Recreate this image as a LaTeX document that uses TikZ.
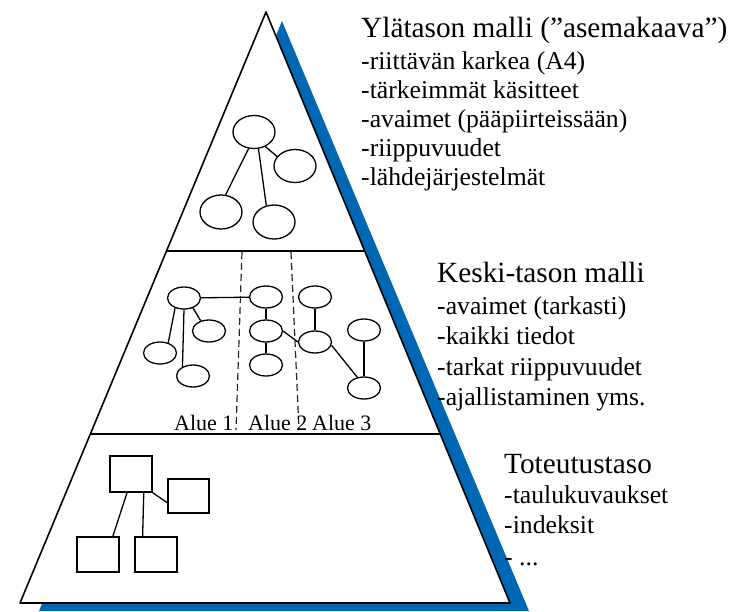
\documentclass[tikz,border=0pt]{standalone}
\usepackage{fontspec}
\setmainfont{Liberation Serif}
\usetikzlibrary{shapes.geometric,calc}
\definecolor{shadowblue}{RGB}{0,104,178}
\begin{document}
\begin{tikzpicture}[x=1pt,y=-1pt,
  ell/.style={draw, ellipse, line width=1.3pt, inner sep=0pt, minimum width=33pt, minimum height=22pt},
  bigell/.style={ell, minimum width=42pt, minimum height=33pt},
  box/.style={draw, rectangle, line width=1.8pt, inner sep=0pt, minimum width=42pt, minimum height=35pt},
  edge/.style={line width=1.3pt},
  head/.style={anchor=base west, inner sep=0pt, font=\fontsize{29.3}{32}\selectfont},
  item/.style={anchor=base west, inner sep=0pt, font=\fontsize{25.7}{30}\selectfont},
  area/.style={anchor=base west, inner sep=0pt, font=\fontsize{22}{24}\selectfont},
  divider/.style={line width=1.8pt},
  zone/.style={line width=1.2pt, dash pattern=on 7pt off 4pt, black!85},
]
\useasboundingbox (0,0) rectangle (734,611);
% shadow
\fill[shadowblue] (282,21) -- (529,611) -- (39,611) -- cycle;
% pyramid
\coordinate (apex) at (266,12);
\coordinate (cornerL) at (20,603);
\coordinate (cornerR) at (510,603);
\draw[line width=1.6pt, fill=white, line join=round] (apex) -- (cornerR) -- (cornerL) -- cycle;
\draw[divider] ($(apex)!0.4044!(cornerL)$) -- ($(apex)!0.4044!(cornerR)$);
\draw[divider] ($(apex)!0.7140!(cornerL)$) -- ($(apex)!0.7140!(cornerR)$);
% dashed area borders
\draw[zone] (242,252) -- (236,430);
\draw[zone] (291,252) -- (299,430);
% top level graph
\node[bigell] (ta) at (254,132) {};
\node[bigell] (tb) at (295,166) {};
\node[bigell, minimum height=34pt] (tc) at (221,212) {};
\node[bigell, minimum height=34pt] (td) at (274,222) {};
\draw[edge] (ta.-108) -- (tc.75);
\draw[edge] (ta.-75) -- (td.115);
\draw[edge] (ta.-52) -- (tb.152);
% middle level graph
\node[ell] (m1) at (184,298) {};
\node[ell] (m1r) at (209,331) {};
\node[ell] (m1l) at (160,353) {};
\node[ell] (m1b) at (193,376) {};
\node[ell] (m2t) at (266,297) {};
\node[ell] (m2m) at (266,331) {};
\node[ell] (m2b) at (266,365) {};
\node[ell] (m3t) at (315,297) {};
\node[ell] (m3m) at (315,342) {};
\node[ell] (m3r) at (364,330) {};
\node[ell] (m3b) at (364,388) {};
\draw[edge] (m1) -- (m2t);
\draw[edge] (m1.-132) -- (m1l.51);
\draw[edge] (m1.south) -- (m1b.139);
\draw[edge] (m1.-48) -- (m1r.129);
\draw[edge] (m2t) -- (m2m);
\draw[edge] (m2m) -- (m2b);
\draw[edge] (m2m.east) -- (m3m.west);
\draw[edge] (m3t) -- (m3m);
\draw[edge] (m3m.-11) -- (m3b.122);
\draw[edge] (m3r) -- (m3b);
\node[area] (al1) at (174,430) {Alue 1};
\node[area] (al2) at (248,430) {Alue 2};
\node[area] (al3) at (312,430) {Alue 3};
% implementation level
\node[box, minimum height=36pt] (b1) at (131,474) {};
\node[box, minimum width=41pt, minimum height=34pt] (b2) at (188.5,496) {};
\node[box] (b3) at (98,554.5) {};
\node[box] (b4) at (156,554.5) {};
\draw[edge] (b1.-102.5) -- (b3.51.3);
\draw[edge] (b1.-56.3) -- (b4.126.6);
\draw[edge] (b1.south east) -- (b2.-163.7);
% texts
\node[head] (h1) at (361,37) {Ylätason malli (”asemakaava”)};
\node[item] (h1a) at (361,69) {-riittävän karkea (A4)};
\node[item] (h1b) at (361,98) {-tärkeimmät käsitteet};
\node[item] (h1c) at (361,127) {-avaimet (pääpiirteissään)};
\node[item] (h1d) at (361,156) {-riippuvuudet};
\node[item] (h1e) at (361,185) {-lähdejärjestelmät};
\node[head] (h2) at (437,282) {Keski-tason malli};
\node[item] (h2a) at (437,314) {-avaimet (tarkasti)};
\node[item] (h2b) at (437,344) {-kaikki tiedot};
\node[item] (h2c) at (437,375) {-tarkat riippuvuudet};
\node[item] (h2d) at (437,405) {-ajallistaminen yms.};
\node[head] (h3) at (504,473) {Toteutustaso};
\node[item] (h3a) at (504,503) {-taulukuvaukset};
\node[item] (h3b) at (504,533) {-indeksit};
\node[item] (h3c) at (504,565) {- ...};
\end{tikzpicture}
\end{document}
